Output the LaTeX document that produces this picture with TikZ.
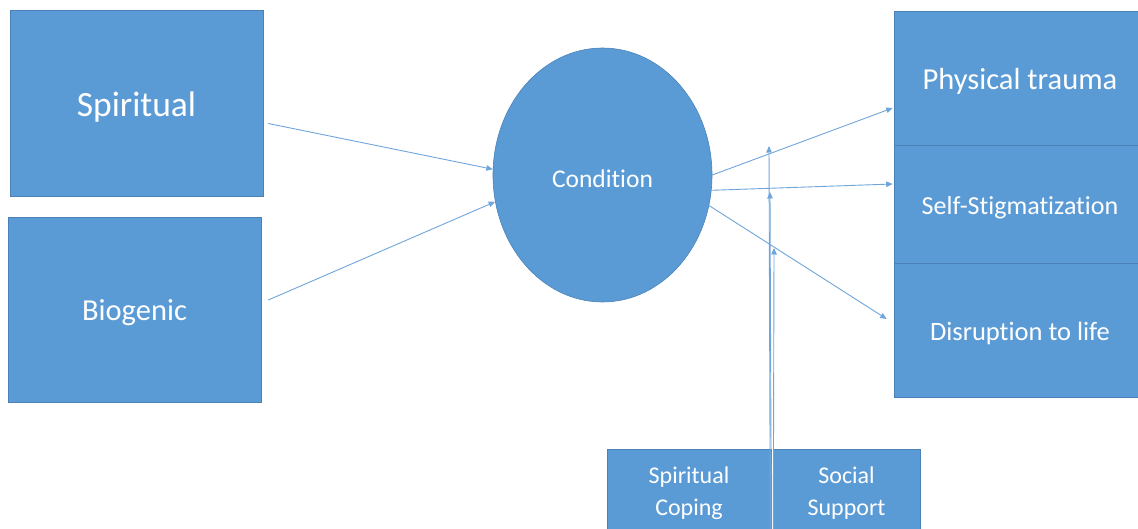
\documentclass[tikz,border=0pt]{standalone}
\usepackage{fontspec}
\setmainfont[Ligatures=NoCommon]{Carlito}
\usetikzlibrary{shapes.geometric,arrows.meta,calc}
\definecolor{boxfill}{HTML}{5B9BD5}
\definecolor{boxedge}{HTML}{4A82B8}
\definecolor{linec}{HTML}{6FA5DA}
% lower a label slightly inside its box, keeping its nominal size
\newcommand\lowered[1]{\raisebox{-3.5pt}[\height][\depth]{#1}}
\newcommand\twolines[2]{\lowered{\begin{tabular}{@{}c@{}}#1\\#2\end{tabular}}}
\tikzset{
  blockbox/.style={rectangle, fill=boxfill, draw=boxedge, line width=0.6pt,
    text=white, inner sep=0pt, align=center},
  conn/.style={draw=linec, line width=0.9pt,
    -{Triangle[length=6.5pt,width=5.5pt]}},
}
\begin{document}
\begin{tikzpicture}[x=1pt,y=-1pt]
\useasboundingbox (0,0) rectangle (1138,529);

% causes
\node[blockbox, minimum width=253pt, minimum height=186pt,
  font=\fontsize{35.5}{42}\selectfont] (spir) at (136.5,103.5) {\lowered{Spiritual}};
\node[blockbox, minimum width=253pt, minimum height=185pt,
  font=\fontsize{30.5}{36}\selectfont] (bio) at (134.5,309.5) {\lowered{Biogenic}};

% central condition
\node[ellipse, fill=boxfill, draw=boxedge, line width=0.6pt, text=white,
  minimum width=219pt, minimum height=254pt, inner sep=0pt,
  font=\fontsize{25.5}{30}\selectfont] (cond) at (602.5,175) {\lowered{Condition}};

% outcomes
\node[blockbox, minimum width=252pt, minimum height=134pt,
  font=\fontsize{30.5}{36}\selectfont] (phys) at (1020,78) {\lowered{Physical trauma}};
\node[blockbox, minimum width=252pt, minimum height=118pt,
  font=\fontsize{26}{30}\selectfont] (stig) at (1020,204) {\lowered{Self-Stigmatization}};
\node[blockbox, minimum width=252pt, minimum height=134pt,
  font=\fontsize{26.5}{30}\selectfont] (disr) at (1020,330) {\lowered{Disruption to life}};

% moderators
\node[blockbox, minimum width=164pt, minimum height=82pt,
  font=\fontsize{24}{32}\selectfont] (cope) at (689,490) {\twolines{Spiritual}{Coping}};
\node[blockbox, minimum width=147pt, minimum height=82pt,
  font=\fontsize{24}{32}\selectfont] (supp) at (846.5,490) {\twolines{Social}{Support}};

% causes into the condition
\draw[conn] ([xshift=5pt,yshift=-20pt]spir.east) -- (cond.177);
\draw[conn] ([xshift=7pt,yshift=9.5pt]bio.east) -- (cond.194);

% condition to outcomes
\draw[conn] (cond.east) -- ([xshift=-1pt,yshift=-30pt]phys.west);
\draw[conn] (cond.-8) -- ([xshift=-1pt,yshift=20pt]stig.west);
\draw[conn] (cond.-16) -- ([xshift=-7pt,yshift=11pt]disr.west);

% moderating effects on the outcome paths
\coordinate (t1) at (769,146);
\coordinate (t2) at (770,192);
\coordinate (t3) at (774,248);
\draw[conn] ([xshift=-1pt]cope.south east) -- (t1);
\draw[conn] (cope.south east) -- (t2);
\draw[conn] ([xshift=2pt]cope.south east) -- (t3);
\end{tikzpicture}
\end{document}
